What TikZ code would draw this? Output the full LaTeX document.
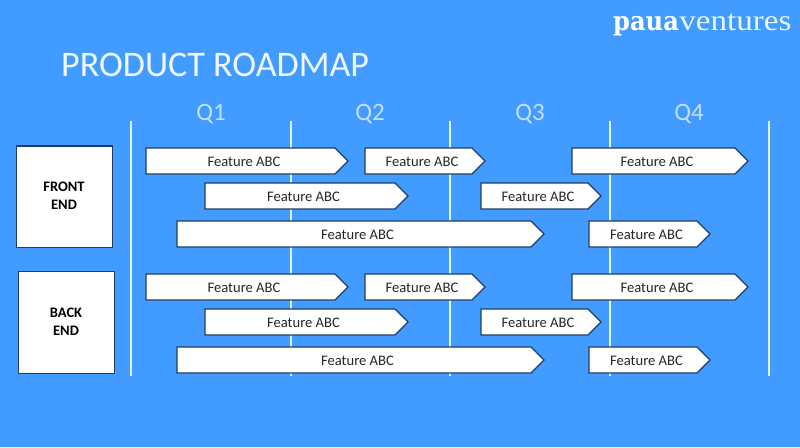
\documentclass[tikz,border=0pt]{standalone}
\usepackage{graphicx}
\usepackage{fontspec}
\setmainfont{Carlito}
\newfontfamily\logofont{DejaVu Serif}
\newfontfamily\logolight{Liberation Serif}
\definecolor{bgblue}{HTML}{429CFF}
\definecolor{edgeblue}{HTML}{1F3D66}
\definecolor{linewhite}{HTML}{E4F1FF}
\definecolor{qcol}{HTML}{C2DFFF}
\definecolor{txt}{HTML}{262626}
\tikzset{
  barshape/.style={draw=edgeblue,fill=white,line width=1.1pt,line join=miter},
  bartext/.style={font=\fontsize{14.6}{16}\selectfont,text=txt,inner sep=0pt,anchor=center},
  sidebox/.style={draw=edgeblue,fill=white,line width=1.1pt,inner sep=0pt,anchor=north west},
  sidetext/.style={font=\bfseries\fontsize{14.5}{18}\selectfont,text=black,align=center,inner sep=0pt},
  gridline/.style={draw=linewhite,line width=2pt},
  qlabel/.style={font=\fontsize{25}{28}\selectfont,text=qcol,inner sep=0pt},
}
% name, x0, x1, top y
\newcommand{\featbar}[4]{%
  \draw[barshape] (#2,#4) -- (#3-13,#4) -- (#3,#4+13) -- (#3-13,#4+26) -- (#2,#4+26) -- cycle;
  \node[bartext] (#1) at ({(#2+#3)/2-3},#4+13.6) {Feature ABC};
}
\begin{document}
\begin{tikzpicture}[x=1pt,y=-1pt]
\useasboundingbox (0,0) rectangle (800,447);
\fill[bgblue] (0,0) rectangle (800,447);

\node[inner sep=0pt,anchor=base west,text=white!92!bgblue,font=\fontsize{36}{40}\selectfont] (title) at (61,76.5) {PRODUCT ROADMAP};
\node[inner sep=0pt,anchor=base west,text=white] (logo) at (613,30.5) {\scalebox{1.05}[1.15]{\logofont\bfseries\fontsize{23}{26}\selectfont paua}\hspace{0.5pt}\scalebox{1.12}[1.0]{\logolight\fontsize{29.5}{30}\selectfont\textcolor{white!90!bgblue}{ventures}}};

\foreach \nm/\x in {la/131,lb/291,lc/450,ld/610,le/769}{
  \coordinate (\nm t) at (\x,121);
  \coordinate (\nm b) at (\x,376);
  \draw[gridline] (\nm t) -- (\nm b);
}
\node[qlabel] (q1) at (211,114) {Q1};
\node[qlabel] (q2) at (370,114) {Q2};
\node[qlabel] (q3) at (530,114) {Q3};
\node[qlabel] (q4) at (689,114) {Q4};

\node[sidebox,minimum width=96pt,minimum height=101.5pt] (front) at (16.2,145.4) {};
\node[sidetext] (frontlabel) at (64,196) {FRONT\\END};
\node[sidebox,minimum width=96pt,minimum height=101.5pt] (back) at (18.2,271) {};
\node[sidetext] (backlabel) at (66,321.3) {BACK\\END};

\foreach \g/\o in {f/0,b/126}{
  \featbar{\g a}{146}{348}{148+\o}
  \featbar{\g b}{365}{485}{148+\o}
  \featbar{\g c}{572}{748}{148+\o}
  \featbar{\g d}{205}{408}{183+\o}
  \featbar{\g e}{481}{601}{183+\o}
  \featbar{\g g}{177}{544}{221+\o}
  \featbar{\g h}{589}{710}{221+\o}
}
\end{tikzpicture}
\end{document}
